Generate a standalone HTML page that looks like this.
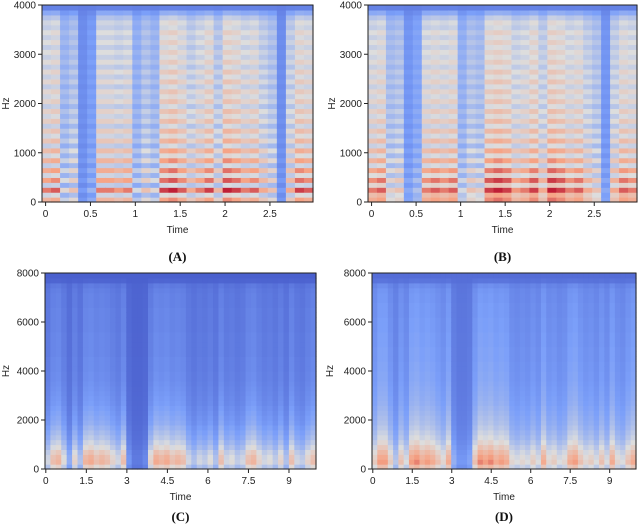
<!DOCTYPE html>
<html><head><meta charset="utf-8">
<style>
body{margin:0;background:#fff;}
svg{display:block;font-family:"Liberation Sans",sans-serif;}
</style></head>
<body>
<svg id="fig" width="640" height="525"></svg>
<script>
const colsA=[.7,.75,.4,.5,.1,.2,.7,.7,.65,.7,.35,.5,.4,.8,.85,.75,.6,.7,.8,.55,.85,.8,.7,.75,.6,.5,.1,.6,.8,.75];
const colsB=[.7,.75,.45,.5,.15,.25,.7,.75,.7,.75,.35,.5,.45,.8,.85,.8,.65,.7,.8,.6,.85,.8,.7,.75,.6,.5,.15,.6,.75,.7];
const rowsA=[.75,.45,.95,.4,.85,.45,.8,.4,.75,.45,.7,.4,.65,.45,.62,.4,.6,.45,.58,.4,.56,.45,.55,.4,.55,.42,.54,.4,.52,.42,.5,.4,.5,.42,.5,.4,.45,.35,.2,.02];
const rowsB=[.8,.7,.95,.55,.9,.5,.82,.45,.75,.45,.7,.42,.66,.45,.63,.42,.6,.45,.58,.42,.56,.45,.55,.42,.55,.44,.54,.42,.52,.44,.5,.42,.5,.42,.5,.4,.45,.35,.2,.02];
const colsC=[.5,.7,.75,.55,.3,.6,.4,.75,.8,.7,.75,.7,.6,.5,.7,.2,.1,.1,.15,.6,.8,.75,.8,.7,.75,.7,.5,.4,.5,.45,.55,.4,.7,.5,.55,.45,.5,.7,.75,.6,.5,.55,.45,.6,.4,.7,.5,.45,.6,.7];
const colsD=[.55,.75,.75,.55,.35,.6,.45,.75,.8,.7,.75,.7,.6,.5,.7,.25,.15,.15,.2,.6,.8,.75,.8,.7,.75,.7,.5,.45,.5,.45,.55,.45,.7,.5,.55,.45,.5,.7,.75,.6,.5,.55,.45,.6,.45,.7,.5,.45,.6,.7];
const rowsC=[.6,.75,.72,.65,.55,.48,.42,.38,.34,.3,.28,.26,.24,.22,.21,.2,.19,.18,.17,.17,.16,.16,.16,.15,.15,.15,.15,.15,.14,.14,.14,.14,.14,.13,.13,.13,.12,.1,.02,0];
const rowsD=[.65,.8,.75,.68,.6,.52,.46,.42,.38,.35,.33,.31,.29,.27,.26,.25,.24,.23,.22,.22,.21,.21,.2,.2,.2,.19,.19,.19,.18,.18,.18,.17,.17,.17,.16,.16,.15,.12,.03,0];
const ticksA=[0,0.5,1,1.5,2,2.5], ticksAy=[0,1000,2000,3000,4000];
const ticksC=[0,1.5,3,4.5,6,7.5,9], ticksCy=[0,2000,4000,6000,8000];

const NS="http://www.w3.org/2000/svg";
const svg=document.getElementById('fig');
function mk(tag,attrs,parent){const e=document.createElementNS(NS,tag);for(const k in attrs)e.setAttribute(k,attrs[k]);(parent||svg).appendChild(e);return e;}
const stops=[[0,[59,76,192]],[.25,[123,159,249]],[.5,[221,221,221]],[.75,[246,163,133]],[1,[180,4,38]]];
function cmap(v){v=Math.max(0,Math.min(1,v));for(let i=1;i<stops.length;i++){if(v<=stops[i][0]){const a=stops[i-1],b=stops[i];const t=(v-a[0])/(b[0]-a[0]);return `rgb(${a[1].map((c,j)=>Math.round(c+(b[1][j]-c)*t)).join(',')})`;}}return 'rgb(180,4,38)';}

function panel(o){
  const g=mk('g',{});
  
  
  const W=o.x1-o.x0,H=o.y1-o.y0;
  const tx=t=>o.x0+(t-o.tmin)/(o.tmax-o.tmin)*W;
  const fy=f=>o.y1-f/o.fmax*H;
  const dt=(o.tmax-o.tmin)/o.cols.length, df=o.fmax/o.rows.length;
  o.cols.forEach((c,i)=>{o.rows.forEach((r,j)=>{
    const x=tx(o.tmin+i*dt), x2=tx(o.tmin+(i+1)*dt), y=fy((j+1)*df), y2=fy(j*df);
    const rc=mk('rect',{x:x,y:y,width:x2-x+0.6,height:y2-y+0.6,fill:cmap(o.base+c*r*o.k)},g);
    
    
  });});
  const fr=mk('rect',{x:o.x0,y:o.y0,width:W,height:H,fill:'none',stroke:'#222','stroke-width':1},g);
  
  
  o.tx.forEach(t=>{const x=tx(t);mk('line',{x1:x,x2:x,y1:o.y1,y2:o.y1+4,stroke:'#222'},g);
    const l=mk('text',{x:x,y:o.y1+15,'font-size':10,'text-anchor':'middle',fill:'#222'},g);l.textContent=t;
    
    });
  o.ty.forEach(f=>{const y=fy(f);mk('line',{x1:o.x0-4,x2:o.x0,y1:y,y2:y,stroke:'#222'},g);
    const l=mk('text',{x:o.x0-6,y:y+3.5,'font-size':10,'text-anchor':'end',fill:'#222'},g);l.textContent=f;
    
    });
  const xl=mk('text',{x:(o.x0+o.x1)/2,y:o.y1+31,'font-size':10,'text-anchor':'middle',fill:'#222'},g);xl.textContent='Time';
  
  
  const yl=mk('text',{x:0,y:0,'font-size':10,'text-anchor':'middle',fill:'#222',transform:`translate(${o.hzx},${(o.y0+o.y1)/2}) rotate(-90)`},g);yl.textContent='Hz';
  
  
  const cap=mk('text',{x:(o.x0+o.x1)/2,y:o.capy,'font-size':13,'font-weight':'bold','text-anchor':'middle','font-family':'Liberation Serif, serif',fill:'#111'},g);cap.textContent=o.cap;
  
  
}
panel({name:'panel-a',x0:42,x1:313,y0:5,y1:202,tmin:-0.04,tmax:2.98,fmax:4000,cols:colsA,rows:rowsA,base:.15,k:1,tx:ticksA,ty:ticksAy,hzx:9,cap:'(A)',capy:261});
panel({name:'panel-b',x0:368,x1:637,y0:5,y1:202,tmin:-0.04,tmax:2.98,fmax:4000,cols:colsB,rows:rowsB,base:.15,k:1,tx:ticksA,ty:ticksAy,hzx:335,cap:'(B)',capy:261});
panel({name:'panel-c',x0:45,x1:316,y0:273,y1:469,tmin:-0.03,tmax:10,fmax:8000,cols:colsC,rows:rowsC,base:.06,k:1.1,tx:ticksC,ty:ticksCy,hzx:9,cap:'(C)',capy:521});
panel({name:'panel-d',x0:372,x1:636,y0:273,y1:469,tmin:-0.03,tmax:10,fmax:8000,cols:colsD,rows:rowsD,base:.1,k:1.1,tx:ticksC,ty:ticksCy,hzx:333,cap:'(D)',capy:521});
</script>
</body></html>
